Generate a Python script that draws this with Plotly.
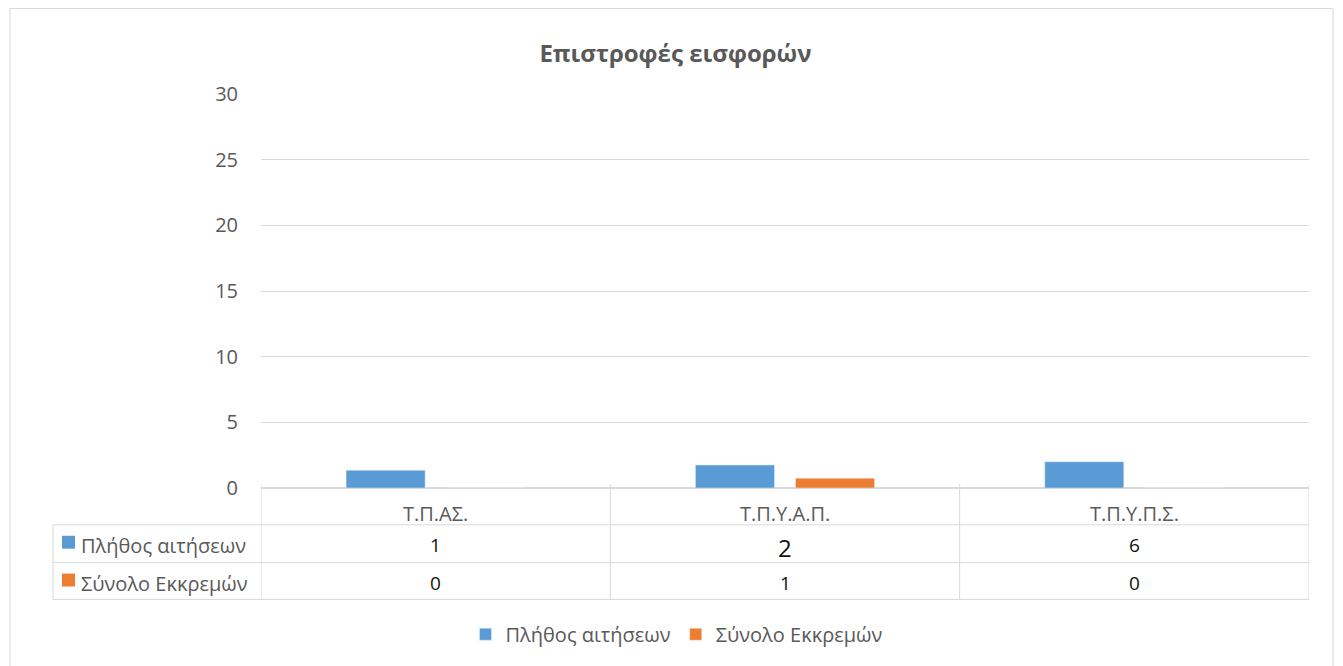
import plotly.graph_objects as go

# data
categories = ["Τ.Π.ΑΣ.", "Τ.Π.Υ.Α.Π.", "Τ.Π.Υ.Π.Σ."]
series_names = ["Πλήθος αιτήσεων", "Σύνολο Εκκρεμών"]
requests_bars = [1.35, 1.75, 2.0]
pending_bars = [0, 0.75, 0]
requests_table = ["1", "2", "6"]
pending_table = ["0", "1", "0"]
y_ticks = [0, 5, 10, 15, 20, 25, 30]

colors = ["#5B9BD5", "#ED7D31"]
grid = "#D9D9D9"
grey_text = "#595959"
FONT = "Open Sans"

OFF = 8  # page body margin
W, H = 1343 - OFF, 666 - OFF
L, R, T, B = 261, 1309, 94, 490  # plot area, page pixels


def px(x):
    return (x - L) / (R - L)


def py(y):
    return (B - y) / (B - T)


fig = go.Figure()
for name, vals, col in zip(series_names, [requests_bars, pending_bars], colors):
    fig.add_trace(go.Bar(x=categories, y=vals, name=name, marker=dict(color=col)))

shapes = []
annotations = []

# data table grid
for y in [527, 565, 602]:
    shapes.append(dict(type="line", xref="paper", yref="paper", x0=px(53), x1=px(R),
                       y0=py(y), y1=py(y), line=dict(color=grid, width=1)))
shapes.append(dict(type="line", xref="paper", yref="paper", x0=px(53), x1=px(53),
                   y0=py(527), y1=py(602), line=dict(color=grid, width=1)))
for i in range(len(categories) + 1):
    shapes.append(dict(type="line", xref="x", yref="paper", x0=i - 0.5, x1=i - 0.5,
                       y0=py(486), y1=py(602), line=dict(color=grid, width=1)))

# category labels
for c in categories:
    annotations.append(dict(x=c, xref="x", y=py(516), yref="paper", text=c, showarrow=False,
                            font=dict(family=FONT, size=20, color=grey_text), yanchor="middle"))

# row headers with legend keys
for name, col, yc in zip(series_names, colors, [545, 583]):
    shapes.append(dict(type="rect", xref="paper", yref="paper", x0=px(62), x1=px(75),
                       y0=py(yc - 7), y1=py(yc + 6), fillcolor=col, line=dict(width=0)))
    annotations.append(dict(x=px(79), xref="paper", y=py(yc + 3), yref="paper", text=name,
                            showarrow=False, xanchor="left", yanchor="middle",
                            font=dict(family=FONT, size=20, color=grey_text)))

# table values
for vals, yc in zip([requests_table, pending_table], [547, 585]):
    for c, v in zip(categories, vals):
        big = v == "2" and vals is requests_table
        annotations.append(dict(x=c, xref="x", y=py(yc + (3 if big else 0)), yref="paper",
                                text=v, showarrow=False, yanchor="middle",
                                font=dict(family=FONT, size=24 if big else 19, color="#111111")))

# outer chart border
shapes.append(dict(type="rect", xref="paper", yref="paper", x0=px(10), x1=px(1333),
                   y0=py(700), y1=py(8), line=dict(color=grid, width=1)))

fig.update_layout(
    width=W, height=H,
    margin=dict(l=L - OFF, r=1343 - R, t=T - OFF, b=H - (B - OFF), pad=0),
    paper_bgcolor="white", plot_bgcolor="white",
    title=dict(text="<b>Επιστροφές εισφορών</b>", x=0.5, xref="container", xanchor="center",
               y=1 - (54 - OFF) / H, yref="container", yanchor="middle",
               font=dict(family=FONT, size=24, color=grey_text)),
    barmode="group", bargap=0.427, bargroupgap=0.21,
    showlegend=True,
    legend=dict(orientation="h", x=px(677), xanchor="center", y=py(637), yanchor="middle",
                font=dict(family=FONT, size=20, color=grey_text), itemwidth=30,
                traceorder="normal"),
    xaxis=dict(showticklabels=False, showgrid=False, zeroline=False, showline=False,
               range=[-0.5, 2.5], fixedrange=True),
    yaxis=dict(range=[0, 30], tickvals=y_ticks, showgrid=True, gridcolor=grid, gridwidth=1,
               zeroline=True, zerolinecolor=grid, showline=False, ticks="",
               ticklabelstandoff=22, tickfont=dict(family=FONT, size=20, color=grey_text)),
    shapes=shapes, annotations=annotations,
    font=dict(family=FONT),
)

fig.write_html("out.html")
